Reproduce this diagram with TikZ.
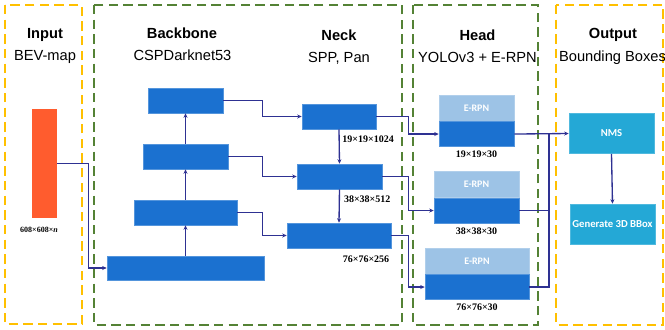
\documentclass[tikz,border=0pt]{standalone}
\usepackage{fontspec}
\setmainfont{Liberation Sans}
\newfontfamily\boxfont{Carlito}
\newfontfamily\dimfont{Liberation Serif}
\usetikzlibrary{arrows.meta,positioning,calc}

\definecolor{netblue}{RGB}{27,113,208}
\definecolor{rpnblue}{RGB}{157,195,230}
\definecolor{outcyan}{RGB}{36,168,214}
\definecolor{inorange}{RGB}{255,92,46}
\definecolor{linkblue}{RGB}{46,49,146}
\definecolor{dashgreen}{RGB}{84,130,53}
\definecolor{dashyellow}{RGB}{255,192,0}

\newcommand{\upx}{0.75pt}

\tikzset{
  frameY/.style={draw=dashyellow, line width=1.6pt, dash pattern=on 7pt off 4pt},
  frameG/.style={draw=dashgreen, line width=1.6pt, dash pattern=on 7pt off 4pt},
  ttl/.style={anchor=base, font=\fontsize{11}{13}\selectfont\bfseries},
  sub/.style={anchor=base, font=\fontsize{11}{13}\selectfont},
  blk/.style={fill=netblue, draw=netblue!75!white, line width=0.4pt, inner sep=0pt,
    minimum height=25*\upx},
  rpn/.style={fill=rpnblue, draw=rpnblue!80!white, line width=0.4pt, inner sep=0pt,
    minimum height=26*\upx, text=white, font=\boxfont\fontsize{7.5}{9}\selectfont\bfseries},
  outbox/.style={fill=outcyan, draw=outcyan!80!white, line width=0.4pt, inner sep=0pt,
    minimum width=85*\upx, minimum height=40*\upx, text=white,
    font=\boxfont\fontsize{8}{10}\selectfont\bfseries},
  dim/.style={inner sep=1pt, font=\dimfont\fontsize{7.5}{9}\selectfont\bfseries},
  link/.style={draw=linkblue, line width=1pt},
  arr/.style={link, -{Stealth[length=3.4pt,width=3pt]}},
}

\begin{document}
\begin{tikzpicture}[x=0.75pt, y=-0.75pt]
  \useasboundingbox (0,0) rectangle (665,329);

  % Frames
  \draw[frameY] (5,5) rectangle (82,324);
  \draw[frameG] (94,5) rectangle (402,325);
  \draw[frameG] (413,5) rectangle (538,325);
  \draw[frameY] (556,5) rectangle (663,325);

  % Titles
  \node[ttl] (tin) at (45,38.5) {Input};
  \node[sub] (sin) at (45,60) {BEV-map};
  \node[ttl] (tbb) at (182,38.5) {Backbone};
  \node[sub] (sbb) at (182.5,60) {CSPDarknet53};
  \node[ttl] (tnk) at (339,40) {Neck};
  \node[sub] (snk) at (339,62) {SPP, Pan};
  \node[ttl] (thd) at (477.5,40) {Head};
  \node[sub] (shd) at (477.5,62.5) {YOLOv3 + E-RPN};
  \node[ttl] (tout) at (613,38.5) {Output};
  \node[sub] (sout) at (612.5,61.5) {Bounding Boxes};

  % Input
  \node[fill=inorange, inner sep=0pt, minimum width=25*\upx, minimum height=109*\upx]
    (inp) at (44.5,163.5) {};
  \node[dim, font=\dimfont\fontsize{6}{7}\selectfont\bfseries] (dinp) at (39,230)
    {608\texttimes608\texttimes\textit{n}};

  % Backbone
  \node[blk, minimum width=75*\upx] (b1) at (185.5,100.5) {};
  \node[blk, minimum width=85*\upx] (b2) at (185.5,156.5) {};
  \node[blk, minimum width=103*\upx] (b3) at (185.5,212.5) {};
  \node[blk, minimum width=157*\upx, minimum height=24*\upx] (b4) at (185.5,268) {};

  % Neck
  \node[blk, minimum width=74*\upx] (n1) at (339,116.5) {};
  \node[blk, minimum width=85*\upx] (n2) at (339.5,176.5) {};
  \node[blk, minimum width=104*\upx] (n3) at (339,235.5) {};
  \node[dim] (dn3) at (366,259) {76\texttimes76\texttimes256};

  % Head
  \node[rpn, minimum width=75*\upx] (r1) at (476.5,108) {E-RPN};
  \node[blk, minimum width=75*\upx, below=0pt of r1] (h1) {};
  \node[rpn, minimum width=85*\upx] (r2) at (476.5,184.5) {E-RPN};
  \node[blk, minimum width=85*\upx, below=0pt of r2] (h2) {};
  \node[rpn, minimum width=104*\upx] (r3) at (477,261) {E-RPN};
  \node[blk, minimum width=104*\upx, below=0pt of r3] (h3) {};
  \node[dim, below=2pt of h1] (dh1) {19\texttimes19\texttimes30};
  \node[dim, below=2pt of h2] (dh2) {38\texttimes38\texttimes30};
  \node[dim, below=2pt of h3] (dh3) {76\texttimes76\texttimes30};

  % Output
  \node[outbox] (nms) at (611.5,133.5) {NMS};
  \node[outbox] (gen) at (612.5,224) {Generate 3D BBox};
  \coordinate (jn) at (549,133.5);

  % Links
  \draw[arr] (inp.east) -- ++(31,0) |- (b4.west);
  \draw[arr] (b4.north) -- (b3.south);
  \draw[arr] (b3.north) -- (b2.south);
  \draw[arr] (b2.north) -- (b1.south);

  \draw[arr] (b1.east) -- ++(39,0) |- (n1.west);
  \draw[arr] (b2.east) -- ++(34,0) |- (n2.west);
  \draw[arr] (b3.east) -- ++(25,0) |- (n3.west);

  \draw[arr] (n1.south) -- (n2.north)
    node[dim, pos=.3, right=1pt] (dn1) {19\texttimes19\texttimes1024};
  \draw[arr] (n2.south) -- (n3.north)
    node[dim, pos=.3, right=2pt] (dn2) {38\texttimes38\texttimes512};

  \draw[arr] (n1.east) -- ++(32,0) |- (h1.west);
  \draw[arr] (n2.east) -- ++(26,0) |- (h2.west);
  \draw[arr] (n3.east) -- ++(17,0) |- (h3.west);

  \draw[arr] (h1.east) -- (nms.west);
  \draw[link] (h2.east) -| (jn);
  \draw[link] (h3.east) -| (jn);
  \draw[arr] (nms.south) -- (gen.north);
\end{tikzpicture}
\end{document}
